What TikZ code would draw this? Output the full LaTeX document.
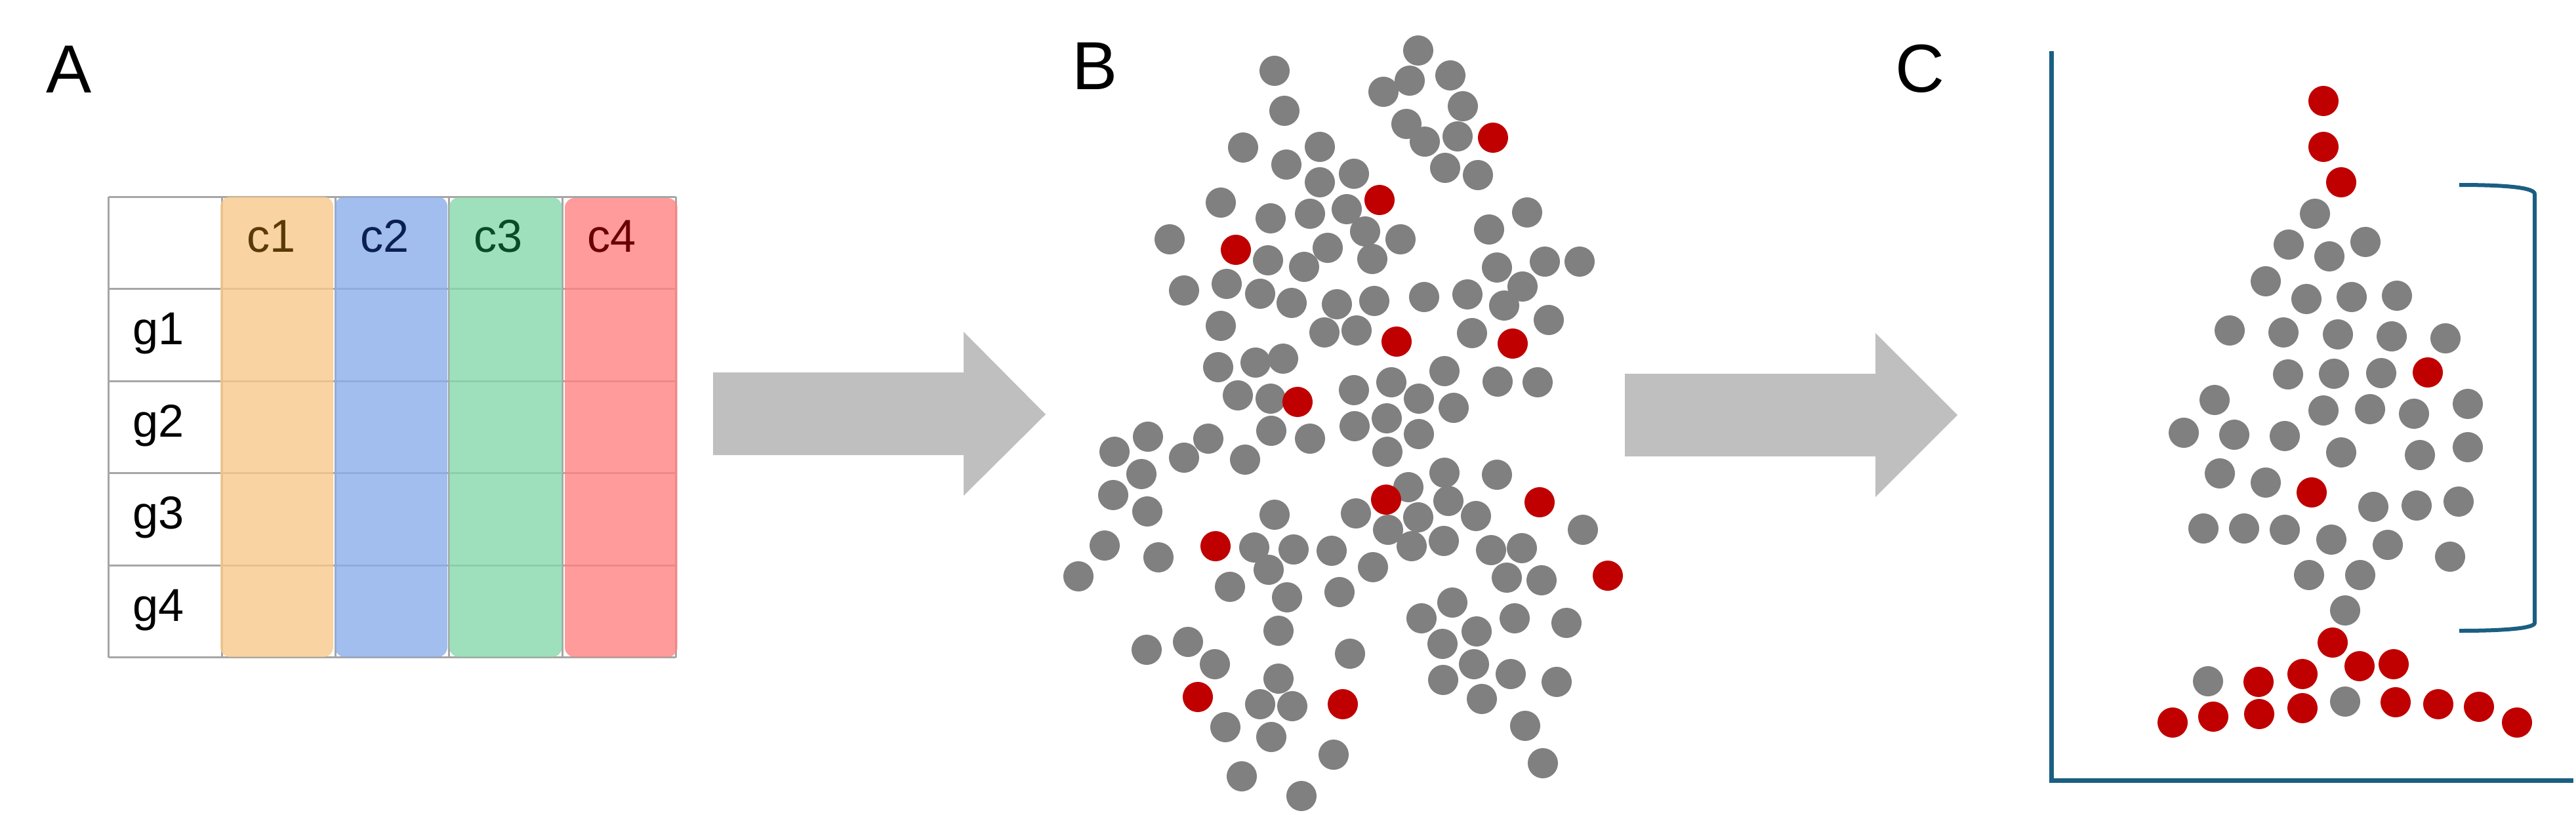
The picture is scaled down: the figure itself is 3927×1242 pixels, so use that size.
\documentclass[tikz,border=0pt]{standalone}
\usepackage{fontspec}
\setmainfont{Liberation Sans}
\definecolor{dotgray}{HTML}{808080}
\definecolor{dotred}{HTML}{C00000}
\definecolor{arrowgray}{HTML}{BFBFBF}
\definecolor{gridgray}{HTML}{A6A6A6}
\definecolor{axisblue}{HTML}{1A5F82}
\definecolor{fillA}{HTML}{F8C98B}
\definecolor{fillB}{HTML}{8AAEEC}
\definecolor{fillC}{HTML}{86D9AA}
\definecolor{fillD}{HTML}{FF8282}
\definecolor{textA}{HTML}{5A3A0A}
\definecolor{textB}{HTML}{0A2050}
\definecolor{textC}{HTML}{0B4A28}
\definecolor{textD}{HTML}{6B0000}
\begin{document}
\begin{tikzpicture}[x=0.01cm,y=-0.01cm,
  panellabel/.style={anchor=base west,inner sep=0pt,font=\fontsize{29.5pt}{35pt}\selectfont},
  celltext/.style={anchor=base west,inner sep=0pt,font=\fontsize{20pt}{24pt}\selectfont},
  colbox/.style={rounded corners=0.15cm,fill opacity=0.8,draw=none},
  gridline/.style={draw=gridgray,line width=0.03cm},
  blockarrow/.style={fill=arrowgray,draw=none},
  gdot/.style={fill=dotgray},
  rdot/.style={fill=dotred},
  axisline/.style={draw=axisblue,line width=0.07cm},
  bracketline/.style={draw=axisblue,line width=0.06cm}]
\useasboundingbox (0,0) rectangle (3927,1242);
\fill[white] (0,0) rectangle (3927,1242);

% ---------- Panel A ----------
\node[panellabel] (labA) at (70,141) {A};
\foreach \xa in {165.6,338,511,684,857,1030}
  \draw[gridline] (\xa,300) -- (\xa,1002.5);
\foreach \ya in {300,440,581,721,862,1002.5}
  \draw[gridline] (165.6,\ya) -- (1030,\ya);
\fill[colbox,fillA] (336,300) rectangle (508,1002);
\fill[colbox,fillB] (510.7,300) rectangle (682,1002);
\fill[colbox,fillC] (685,301) rectangle (856.7,1002);
\fill[colbox,fillD] (861,302) rectangle (1032.7,1002);
\node[celltext,text=textA] (c1) at (376,384) {c1};
\node[celltext,text=textB] (c2) at (549,384) {c2};
\node[celltext,text=textC] (c3) at (722,384) {c3};
\node[celltext,text=textD] (c4) at (895,384) {c4};
\node[celltext] (g1) at (202,525.5) {g1};
\node[celltext] (g2) at (202,666) {g2};
\node[celltext] (g3) at (202,806.5) {g3};
\node[celltext] (g4) at (202,947) {g4};

% ---------- Arrows ----------
\fill[blockarrow] (1087,568) -- (1469,568) -- (1469,506) -- (1594,632) -- (1469,756) -- (1469,694) -- (1087,694) -- cycle;
\fill[blockarrow] (2477,570) -- (2859,570) -- (2859,508) -- (2984,633) -- (2859,758) -- (2859,696) -- (2477,696) -- cycle;

% ---------- Panel B ----------
\node[panellabel] (labB) at (1634,136) {B};
\foreach \px/\py in {1943/108,1958/169,1895/225,2012/224,1961/251,2012/278,1861/309,1937/333,1997/326,1783/365,1933/397,1988/407,2024/378,1805/443,1870/433,1921/448,1969/462,2038/464,1861/497,2019/507,1857/560,1914/553,1956/547,1887/603,1937/608,
2162/77,2149/123,2109/140,2211/115,2230/162,2144/189,2172/216,2222/208,2203/256,2253/267,2064/265,2053/319,2081/353,2135/365,2092/395,2328/324,2270/350,2282/408,2355/399,2408/399,2321/437,2293/466,2361/488,2237/449,2171/453,2095/459,2068/504,2244/508,2202/566,2121/583,2163/608,2216/622,2283/582,2344/583,2064/595,
1750/666,1699/689,1842/669,1805/698,1740/723,1697/755,1749/780,1898/701,1938/657,1997/669,1943/785,1684/832,1766/850,1644/879,1912/835,1972/838,2030/840,1934/869,1875/895,1962/911,2042/903,1949/962,1748/991,1811/979,1852/1013,1949/1035,1921/1074,1970/1077,1868/1109,1938/1124,2033/1151,1893/1184,1984/1214,
2065/650,2114/638,2163/662,2115/689,2202/721,2282/724,2147/743,2067/783,2208/764,2162/789,2116/808,2250/787,2152/833,2201/825,2413/808,2273/839,2320/836,2297/881,2350/885,2093/865,2214/919,2167/943,2251/963,2309/943,2388/950,2058/997,2199/982,2247/1013,2200/1037,2303/1028,2373/1040,2259/1066,2325/1107,2352/1164}
  \fill[gdot] (\px,\py) circle (0.23cm);
\foreach \px/\py in {1884/381,1978/613,2276/210,2103/305,2129/521,2306/524,1853/833,1826/1063,2113/762,2347/766,2451/878,2047/1074}
  \fill[rdot] (\px,\py) circle (0.23cm);

% ---------- Panel C ----------
\node[panellabel] (labC) at (2889,140) {C};
\coordinate (axtop) at (3127.5,78);
\coordinate (axorig) at (3127.5,1190);
\coordinate (axright) at (3923,1190);
\draw[axisline] (axtop) -- ([yshift=-0.035cm]axorig);
\draw[axisline] (axorig) -- (axright);
\coordinate (brA) at (3749,282);
\coordinate (brB) at (3864,296);
\coordinate (brC) at (3864,950);
\coordinate (brD) at (3749,962);
\draw[bracketline] (brA) .. controls (3820,282) and (3864,286) .. (brB) -- (brC) .. controls (3864,958) and (3820,962) .. (brD);
\foreach \px/\py in {3529/326,3489/373,3551/391,3606/369,3454/429,3516/456,3585/453,3654/451,3399/504,3481/507,3564/510,3646/513,3728/516,3488/571,3558/570,3630/569,3376/610,3542/626,3613/624,3680/631,3762/616,3329/660,3406/663,3483/665,3569/690,3689/694,3762/682,3384/722,3454/736,3618/773,3684/771,3748/765,3359/806,3421/806,3483/808,3554/823,3640/831,3735/849,3520/877,3598/877,3575/931,3366/1039,3575/1070}
  \fill[gdot] (\px,\py) circle (0.23cm);
\foreach \px/\py in {3542/154,3542/224,3569/278,3701/568,3524/751,3556/980,3597/1016,3649/1013,3443/1040,3510/1028,3312/1102,3374/1093,3444/1089,3510/1080,3652/1071,3717/1074,3779/1078,3837/1102}
  \fill[rdot] (\px,\py) circle (0.23cm);
\end{tikzpicture}
\end{document}
